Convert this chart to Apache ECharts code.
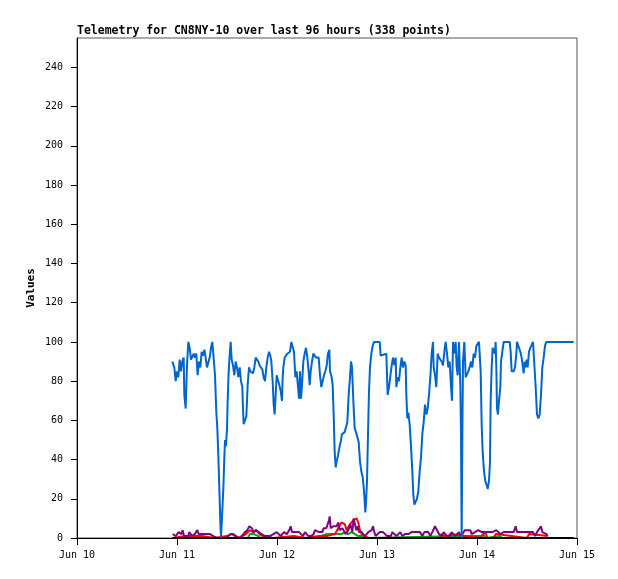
<!DOCTYPE html>
<html><head><meta charset="utf-8">
<script src="https://cdn.jsdelivr.net/npm/echarts@6/dist/echarts.min.js"></script>
<style>html,body{margin:0;padding:0;background:#fff}#c{width:618px;height:579px}</style>
</head><body><div id="c"></div>
<script>
var titleText = 'Telemetry for CN8NY-10 over last 96 hours (338 points)';
var xTickLabels = ['Jun 10','Jun 11','Jun 12','Jun 13','Jun 14','Jun 15'];
// hours since Jun 10 00:00
var blueHours = [22.88,23.36,23.68,24.00,24.32,24.64,24.96,25.28,25.60,25.76,26.08,26.40,26.72,27.04,27.36,27.68,28.00,28.32,28.64,28.96,29.28,29.60,29.92,30.24,30.56,30.88,31.20,31.52,31.84,32.16,32.48,32.96,33.12,33.44,33.68,33.92,34.16,34.40,34.56,34.88,35.12,35.36,35.52,35.76,36.00,36.16,36.40,36.64,36.88,37.12,37.44,37.76,38.08,38.40,38.72,39.04,39.36,39.68,39.84,40.00,40.32,40.64,40.96,41.28,41.60,41.92,42.24,42.56,42.88,43.20,43.52,43.84,44.16,44.48,44.80,45.12,45.44,45.76,46.08,46.40,46.64,46.96,47.20,47.44,47.68,47.92,48.24,48.56,48.88,49.20,49.36,49.52,49.84,50.16,50.48,50.80,51.12,51.44,51.92,52.08,52.40,52.72,53.04,53.28,53.52,53.76,54.00,54.32,54.64,54.96,55.28,55.60,55.84,56.08,56.40,56.72,57.04,57.36,57.68,58.00,58.32,58.64,58.96,59.28,59.60,59.92,60.24,60.56,60.72,61.04,61.36,61.60,61.84,62.08,62.32,62.64,62.96,63.28,63.60,63.92,64.24,64.56,64.88,65.20,65.52,65.76,66.00,66.32,66.64,66.96,67.28,67.60,67.92,68.24,68.56,68.88,69.20,69.36,69.60,69.84,70.08,70.32,70.64,70.96,71.28,72.64,72.88,73.12,74.24,74.40,74.56,74.88,75.20,75.52,75.84,76.16,76.48,76.64,76.96,77.28,77.60,77.92,78.24,78.56,78.88,79.04,79.28,79.52,79.84,80.16,80.48,80.72,80.96,81.28,81.60,81.92,82.24,82.56,82.88,83.20,83.52,83.84,84.16,84.48,84.80,85.12,85.44,85.60,85.92,86.24,86.56,86.88,87.20,87.52,87.84,88.16,88.48,88.80,89.12,89.44,89.76,90.00,90.24,90.56,90.88,91.12,91.36,91.68,92.00,92.16,92.32,92.48,92.64,92.96,93.28,93.60,93.92,94.24,94.56,94.88,95.20,95.52,95.84,96.16,96.48,96.88,97.12,97.36,97.68,98.00,98.32,98.56,98.88,99.12,99.28,99.52,99.76,100.08,100.32,100.48,100.64,100.80,101.04,101.28,101.60,101.76,102.08,102.40,103.84,104.08,104.32,104.80,105.12,105.44,105.60,106.08,106.40,106.72,106.96,107.20,107.44,107.68,107.92,108.16,108.48,108.80,109.12,109.44,109.76,110.08,110.40,110.72,111.04,111.36,111.68,112.00,112.32,112.64,119.20];
var blueValues = [90,87,80,85,82,91,85,90,92,73,66,88,100,97,91,91,94,92,94,83,90,87,95,93,96,92,87,88,92,97,100,100,83,64,56,42,25,8,0,0,25,41,50,47,56,70,85,93,100,91,88,83,90,87,82,87,80,77,66,58,59,62,78,87,85,86,84,87,92,93,90,88,88,86,82,80,87,92,95,93,90,80,68,63,73,83,82,78,75,70,82,87,92,93,94,94,95,100,100,95,82,85,77,71,85,71,78,90,94,97,92,85,78,85,90,94,94,92,93,92,83,77,80,83,85,88,94,96,85,83,78,63,44,36,39,42,46,49,53,53,54,53,59,73,82,90,87,70,56,54,53,49,39,34,31,24,13,18,29,53,75,87,94,98,100,100,93,94,94,83,73,77,78,88,92,88,92,77,82,80,87,92,87,90,88,73,61,64,58,47,34,22,17,16,20,24,34,41,53,59,68,63,66,73,82,94,100,87,83,77,94,92,92,90,88,95,100,94,87,90,77,70,100,94,100,87,83,100,78,53,0,51,90,100,82,83,85,87,90,87,94,92,98,97,100,85,58,44,34,29,27,25,29,39,70,87,97,97,94,100,87,66,63,70,77,90,95,100,100,95,85,85,87,94,100,100,95,92,88,84,90,87,91,87,95,97,98,100,100,77,63,61,63,73,87,92,98,100,100];
var purpleHours = [22.96,23.44,23.76,24.08,24.40,24.72,25.04,25.36,25.68,26.00,26.64,26.96,27.28,27.60,28.24,28.88,29.20,29.52,30.32,31.12,31.92,32.72,33.12,33.60,35.60,36.32,36.88,37.52,37.92,38.72,39.52,40.32,40.88,41.36,41.68,42.00,42.32,42.64,42.96,43.28,43.60,43.92,44.32,44.72,45.12,45.52,46.32,47.12,47.92,48.40,48.88,49.20,49.68,50.32,50.96,51.28,51.60,52.08,52.56,52.88,53.28,53.76,54.24,54.72,55.20,55.52,56.16,56.80,57.12,57.44,58.08,58.56,58.88,59.20,59.52,59.84,60.16,60.48,60.64,60.88,61.12,61.52,61.92,62.32,62.72,63.04,63.36,63.68,64.16,64.48,64.80,65.12,65.60,66.08,66.40,66.72,67.04,67.36,67.68,68.00,68.32,68.64,69.12,69.44,69.92,70.40,70.72,71.04,71.36,71.68,72.16,72.64,73.12,73.44,73.92,74.40,74.88,75.36,75.68,76.16,76.64,77.12,77.60,78.08,78.72,79.52,80.32,80.80,81.28,81.76,82.32,82.88,83.36,83.84,84.32,84.80,85.28,85.76,85.92,86.40,86.88,87.52,88.00,88.32,88.80,89.12,89.60,89.92,90.24,90.72,91.20,91.68,92.16,92.64,93.12,93.60,94.40,94.72,95.20,95.52,96.00,96.32,96.80,97.12,97.60,97.92,98.40,98.88,99.36,99.68,100.16,100.64,101.12,101.60,101.92,102.40,102.88,103.36,103.84,104.32,104.80,105.28,105.60,106.08,106.56,107.04,107.52,108.00,108.48,108.96,109.44,109.92,110.40,110.88,111.36,111.68,112.16,112.64,112.96];
var purpleValues = [2,3,1,2,3,2,2,4,1,1,1,3,2,1,2,4,2,2,2,2,2,1,0,0,0,1,2,2,1,0,1,3,4,6,6,5,3,4,4,5,3,3,2,3,1,2,1,2,3,2,1,1,3,2,4,6,3,2,3,2,3,2,1,3,3,1,1,2,4,3,3,4,3,5,5,5,7,9,11,5,4,6,7,6,8,4,3,5,6,2,3,4,7,3,10,9,4,6,3,2,3,3,1,2,3,3,4,6,3,1,2,3,3,3,3,1,2,1,3,3,1,2,3,1,2,2,3,4,3,2,3,1,3,2,3,1,3,3,6,6,2,1,3,3,1,2,1,3,2,1,2,3,1,0,4,4,4,2,2,3,2,4,4,3,4,3,2,3,2,3,2,4,3,2,3,3,2,3,4,3,3,6,3,2,3,3,3,2,3,2,3,1,3,4,6,3,2,2,1];
var redHours = [22.96,26.0,30.0,33.0,36.0,37.0,38.0,39.0,40.5,41.5,42.3,43.0,43.8,44.5,47.0,52.0,55.0,58.0,60.0,61.9,62.7,63.5,63.9,64.3,64.7,65.1,65.5,65.9,66.3,66.7,67.1,67.5,67.9,68.3,68.7,69.1,70.0,75.0,80.0,87.0,87.5,89.0,89.5,97.0,97.5,98.0,98.5,100.0,100.5,108.0,108.5,112.96];
var redValues = [0,1,1,0,1,2,1,0,2,4,3,4,2,1,0,1,0,1,1,2,5,8,8,7,4,5,7,8,9,10,10,8,4,2,2,1,0,0,0,0,2,0,2,0,2,3,0,0,2,0,2,1];
var greenHours = [22.96,41.0,41.5,42.5,43.5,44.0,58.0,58.5,60.0,61.9,62.7,63.5,64.3,65.1,65.9,66.7,67.5,68.3,69.5,92.5,93.0,93.3,97.0,97.5,98.0,101.5,102.0,112.96];
var greenValues = [0,0,2,2,1,0,0,1,2,2,2,2,3,2,3,2,1,1,0,1,1,0,1,2,0,1,0,0];
var blackHours = [22.88,119.20];
var blackValues = [0,0];

function pairs(h, v) { return h.map(function (x, i) { return [x, v[i]]; }); }
function mkSeries(name, h, v, color, z) {
  return { name: name, type: 'line', data: pairs(h, v), showSymbol: false, symbol: 'none',
    lineStyle: { color: color, width: 2 }, itemStyle: { color: color }, z: z, animation: false };
}
var chart = echarts.init(document.getElementById('c'));
var mono = 'DejaVu Sans Mono';
chart.setOption({
  backgroundColor: '#ffffff',
  animation: false,
  title: { text: titleText, left: 72, top: 20,
    textStyle: { fontFamily: mono, fontWeight: 'bold', fontSize: 11.5, color: '#000' } },
  grid: { left: 77, right: 41, top: 38, bottom: 41, show: true, borderColor: '#555', borderWidth: 1, backgroundColor: 'transparent' },
  xAxis: { type: 'value', min: 0, max: 120, interval: 24,
    axisLine: { show: true, onZero: false, lineStyle: { color: '#000', width: 1 } },
    axisTick: { show: true, inside: false, length: 7, lineStyle: { color: '#000' } },
    axisLabel: { margin: 12, color: '#000', fontFamily: mono, fontSize: 10,
      formatter: function (v) { return xTickLabels[Math.round(v / 24)]; } },
    splitLine: { show: false } },
  yAxis: { type: 'value', min: 0, max: 255, interval: 20, name: 'Values', nameLocation: 'middle', nameGap: 40,
    nameMoveOverlap: false,
    nameTextStyle: { fontFamily: mono, fontWeight: 'bold', fontSize: 11, color: '#000' },
    axisLine: { show: true, lineStyle: { color: '#000', width: 1 } },
    axisTick: { show: true, inside: false, length: 6, lineStyle: { color: '#000' } },
    axisLabel: { margin: 14, color: '#000', fontFamily: mono, fontSize: 10, showMaxLabel: false },
    splitLine: { show: false } },
  series: [
    mkSeries('green', greenHours, greenValues, '#00aa00', 2),
    mkSeries('red', redHours, redValues, '#ff0000', 3),
    mkSeries('purple', purpleHours, purpleValues, '#800080', 4),
    mkSeries('black', blackHours, blackValues, '#000000', 5),
    mkSeries('blue', blueHours, blueValues, '#0066cc', 6)
  ]
});
</script></body></html>
